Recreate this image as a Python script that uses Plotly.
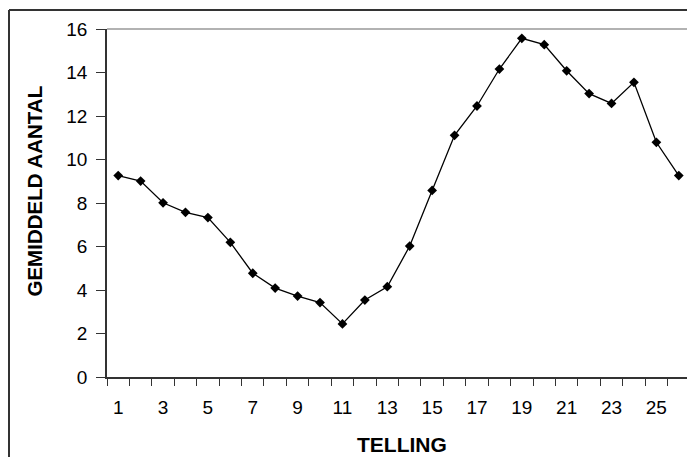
import plotly.graph_objects as go

telling = list(range(1, 27))
gemiddeld_aantal = [9.26, 9.01, 8.01, 7.57, 7.33, 6.19, 4.77, 4.09, 3.72, 3.42,
                    2.44, 3.54, 4.15, 6.02, 8.58, 11.11, 12.46, 14.16, 15.57, 15.28,
                    14.08, 13.03, 12.58, 13.55, 10.79, 9.26]
x_tick_vals = list(range(1, 27, 2))
x_tick_labels = [str(v) for v in x_tick_vals]
y_tick_vals = list(range(0, 17, 2))

OFF = 8  # default body margin of the html page
W, H = 695 - OFF, 457 - OFF
L, R, T, B = 107 - OFF, 5, 29 - OFF, 80
pw, ph = W - L - R, H - T - B

fig = go.Figure()
fig.add_trace(go.Scatter(
    x=telling, y=gemiddeld_aantal, mode="lines+markers",
    line=dict(color="black", width=1.3),
    marker=dict(symbol="diamond", size=7.5, color="black"),
    showlegend=False, cliponaxis=False,
))

font = "Liberation Sans, Arial, sans-serif"
fig.update_layout(
    width=W, height=H,
    margin=dict(l=L, r=R, t=T, b=B, pad=0),
    paper_bgcolor="white", plot_bgcolor="white",
    font=dict(family=font, size=19, color="black"),
    xaxis=dict(
        range=[0.5, 26.5], tickvals=x_tick_vals, ticktext=x_tick_labels,
        ticks="", showgrid=False, zeroline=False,
        showline=True, linecolor="#333", linewidth=1.5,
        tickfont=dict(size=19), ticklabelstandoff=12,
        minor=dict(tickvals=[i + 0.5 for i in range(0, 27)], ticks="outside",
                   ticklen=7, tickcolor="#333", tickwidth=1, showgrid=False),
    ),
    yaxis=dict(
        range=[0, 16], tickvals=y_tick_vals, ticks="outside", ticklen=9,
        tickcolor="#333", showgrid=False, zeroline=False,
        showline=True, linecolor="#333", linewidth=1.5,
        tickfont=dict(size=19), ticklabelstandoff=5,
    ),
)

fig.add_annotation(text="<b>TELLING</b>", xref="paper", yref="paper",
                   x=(402 - OFF - L) / pw, y=(T + ph - (444 - OFF)) / ph,
                   xanchor="center", yanchor="middle", showarrow=False,
                   font=dict(size=21, family=font, color="black"))
fig.add_annotation(text="<b>GEMIDDELD AANTAL</b>", xref="paper", yref="paper",
                   x=(34 - OFF - L) / pw, y=(T + ph - (191.5 - OFF)) / ph, textangle=-90,
                   xanchor="center", yanchor="middle", showarrow=False,
                   font=dict(size=20.5, family=font, color="black"))

# plot-area border (top and right, grey)
fig.add_shape(type="line", xref="paper", yref="paper", x0=0, x1=1, y0=1, y1=1,
              line=dict(color="#999", width=1.5))
fig.add_shape(type="line", xref="paper", yref="paper", x0=1, x1=1, y0=0, y1=1,
              line=dict(color="#999", width=1.5))

# outer chart frame (top and left edges visible)
fx0 = (9 - OFF - L) / pw
fy1 = (T + ph - (10 - OFF)) / ph
fy0 = -(B + 10) / ph
fig.add_shape(type="line", xref="paper", yref="paper", x0=fx0, x1=(W + 10 - L) / pw,
              y0=fy1, y1=fy1, line=dict(color="#333", width=2))
fig.add_shape(type="line", xref="paper", yref="paper", x0=fx0, x1=fx0,
              y0=fy0, y1=fy1, line=dict(color="#333", width=2))

fig.write_html("out.html")
